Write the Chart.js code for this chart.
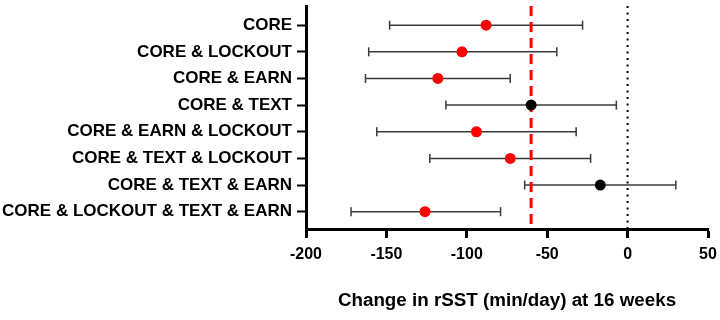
<!DOCTYPE html>
<html>
<head>
<meta charset="utf-8">
<script src="https://cdn.jsdelivr.net/npm/chart.js@4"></script>
<style>
  html, body { margin: 0; padding: 0; background: #fff; }
  #wrap { width: 720px; height: 320px; position: relative; }
</style>
</head>
<body>
<div id="wrap"><canvas id="forest"></canvas></div>
<script>
// groups, top to bottom
var groups = ["CORE", "CORE & LOCKOUT", "CORE & EARN", "CORE & TEXT",
  "CORE & EARN & LOCKOUT", "CORE & TEXT & LOCKOUT", "CORE & TEXT & EARN",
  "CORE & LOCKOUT & TEXT & EARN"];
// change in rSST (min/day), mean and 95% CI
var means = [-88, -103, -118, -60, -94, -73, -17, -126];
var lower = [-148, -161, -163, -113, -156, -123, -64, -172];
var upper = [-28, -44, -73, -7, -32, -23, 30, -79];
var significant = [true, true, true, false, true, true, false, true];
var xTicks = [-200, -150, -100, -50, 0, 50];
var referenceMean = -60;

var font = "'Liberation Sans', Arial, Helvetica, sans-serif";
var yTop = -0.72, yBottom = 7.65;

// one line per group, caps come from the rotated 'line' point style
var whiskers = groups.map(function (g, i) {
  return {
    type: 'scatter',
    showLine: true,
    data: [{x: lower[i], y: i}, {x: upper[i], y: i}],
    borderColor: '#3a3a3a',
    borderWidth: 1.5,
    pointStyle: 'line',
    pointRotation: 90,
    pointRadius: 4.5,
    pointBorderWidth: 1.5,
    pointBorderColor: '#3a3a3a',
    order: 4
  };
});

var datasets = [{
  type: 'scatter',
  data: means.map(function (m, i) { return {x: m, y: i}; }),
  pointRadius: 5.5,
  pointBorderWidth: 0,
  pointBackgroundColor: significant.map(function (s) { return s ? '#ff0000' : '#000000'; }),
  order: 0
}, {
  type: 'scatter',
  showLine: true,
  data: [{x: referenceMean, y: yTop}, {x: referenceMean, y: yBottom}],
  borderColor: '#ff0000',
  borderWidth: 3,
  borderDash: [10, 6],
  pointRadius: 0,
  order: 1
}, {
  type: 'scatter',
  showLine: true,
  data: [{x: 0, y: yTop}, {x: 0, y: yBottom}],
  borderColor: '#000000',
  borderWidth: 2,
  borderDash: [2, 4.5],
  pointRadius: 0,
  order: 2
}].concat(whiskers);

var chart = new Chart(document.getElementById('forest'), {
  type: 'scatter',
  data: { datasets: datasets },
  options: {
    responsive: true,
    maintainAspectRatio: false,
    animation: false,
    events: [],
    layout: { padding: { top: 3, right: 12, left: 0, bottom: 0 } },
    plugins: {
      legend: { display: false },
      tooltip: { enabled: false }
    },
    scales: {
      x: {
        type: 'linear',
        min: -200,
        max: 50,
        afterBuildTicks: function (scale) {
          scale.ticks = xTicks.map(function (v) { return {value: v}; });
        },
        afterFit: function (scale) {
          scale.height = 91;
          scale.paddingLeft = 0;
          scale.paddingRight = 0;
        },
        grid: { drawOnChartArea: false, drawTicks: true, tickLength: 9, tickWidth: 3, tickColor: '#000' },
        border: { display: true, color: '#000', width: 3 },
        ticks: { color: '#000', padding: 7, font: { family: font, size: 16, weight: 'bold' } },
        title: {
          display: true,
          text: 'Change in rSST (min/day) at 16 weeks',
          color: '#000',
          padding: { top: 4, bottom: 8 },
          font: { family: font, size: 18.8, weight: 'bold' }
        }
      },
      y: {
        type: 'linear',
        reverse: true,
        min: yTop,
        max: yBottom,
        afterBuildTicks: function (scale) {
          scale.ticks = groups.map(function (g, i) { return {value: i}; });
        },
        afterFit: function (scale) {
          scale.width = 306;
          scale.paddingTop = 0;
          scale.paddingBottom = 0;
        },
        grid: { drawOnChartArea: false, drawTicks: true, tickLength: 9, tickWidth: 2, tickColor: '#000' },
        border: { display: true, color: '#000', width: 3 },
        ticks: {
          color: '#000',
          padding: 5,
          font: { family: font, size: 17, weight: 'bold' },
          callback: function (v) { return groups[v]; }
        }
      }
    }
  }
});
</script>
</body>
</html>
